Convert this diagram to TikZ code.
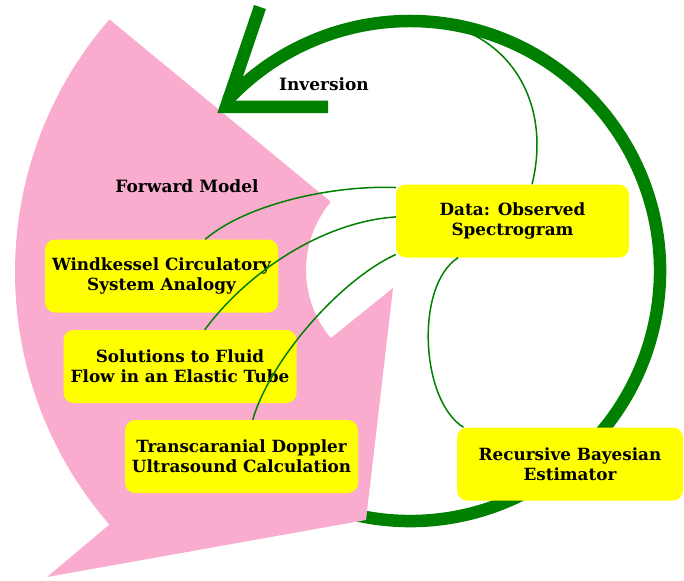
\documentclass[tikz,border=0pt]{standalone}
\usepackage{fontspec}
\setmainfont{DejaVu Serif}
\definecolor{fmpink}{RGB}{249,172,205}
\definecolor{boxyellow}{RGB}{255,255,0}
\definecolor{invgreen}{RGB}{0,128,0}
\begin{document}
\begin{tikzpicture}[x=1pt,y=-1pt,
  box/.style={fill=boxyellow, rounded corners=10pt, minimum width=233pt, minimum height=73pt,
    align=center, inner sep=2pt, font=\fontsize{16.8}{20}\selectfont\bfseries},
  lbl/.style={font=\fontsize{17}{20}\selectfont\bfseries},
  link/.style={invgreen, line width=1.5pt}]
\useasboundingbox (0,0) rectangle (684,580);
\draw[invgreen, line width=12.5pt] ([shift={(102:250)}]410,271) arc[start angle=102, end angle=-137, radius=250];
\fill[fmpink] ([shift={(221:385)}]400,272) -- ([shift={(220:106)}]412,270)
  arc[start angle=220, end angle=140, radius=106] -- (393,288) -- (366,520) -- (47,577)
  -- ([shift={(139:385)}]400,272) arc[start angle=139, end angle=221, radius=385] -- cycle;
\draw[invgreen, line width=12.5pt] (260,7) -- (226,107) -- (328,107);

\node[lbl] (fwdlabel) at (187,186) {Forward Model};
\node[lbl] (invlabel) at (324,84) {Inversion};
\node[box] (wind) at (161.5,276) {Windkessel Circulatory\\System Analogy};
\node[box] (sol) at (180,366.5) {Solutions to Fluid\\Flow in an Elastic Tube};
\node[box] (trans) at (241.5,456.5) {Transcaranial Doppler\\Ultrasound Calculation};
\node[box] (data) at (512.5,221) {Data: Observed\\Spectrogram};
\node[box, minimum width=226pt] (bayes) at (570,464) {Recursive Bayesian\\Estimator};
\coordinate (arctop) at ([shift={(-75.5:245)}]410,271);

\draw[link] (data.62) .. controls (548,120) and (525,60) .. (arctop);
\draw[link] (data.214) .. controls (415,285) and (420,400) .. (bayes.161);
\draw[link] (data.164) .. controls (330,185) and (245,205) .. (wind.40);
\draw[link] (data.178) .. controls (320,222) and (245,275) .. (sol.56);
\draw[link] (data.196) .. controls (340,280) and (270,360) .. (trans.73);
\end{tikzpicture}
\end{document}
